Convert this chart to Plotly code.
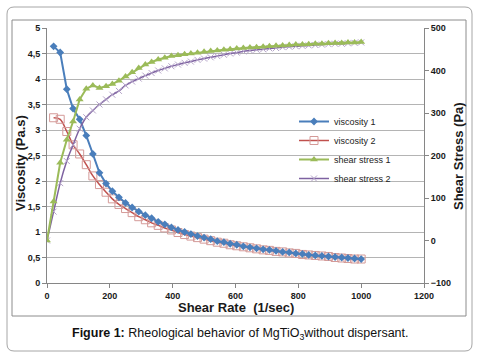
import plotly.graph_objects as go

# ---------------- data ----------------
shear_rate = [0, 21, 42, 63, 83, 104, 125, 146, 167, 188, 208, 229, 250, 271, 292,
              313, 333, 354, 375, 396, 417, 438, 458, 479, 500, 521, 542, 563, 583,
              604, 625, 646, 667, 688, 708, 729, 750, 771, 792, 813, 833, 854, 875,
              896, 917, 938, 958, 979, 1000]

viscosity_rate = shear_rate[1:]
viscosity_1 = [4.64, 4.52, 3.80, 3.42, 3.21, 2.89, 2.53, 2.16, 1.95, 1.80, 1.68, 1.57,
               1.48, 1.40, 1.33, 1.27, 1.20, 1.15, 1.09, 1.04, 1.00, 0.96, 0.92, 0.89,
               0.86, 0.82, 0.80, 0.77, 0.75, 0.72, 0.70, 0.68, 0.66, 0.65, 0.63, 0.61,
               0.60, 0.58, 0.57, 0.55, 0.54, 0.53, 0.52, 0.51, 0.50, 0.49, 0.48, 0.47]
viscosity_2 = [3.24, 3.21, 2.97, 2.71, 2.53, 2.32, 2.10, 1.93, 1.78, 1.65, 1.54, 1.46,
               1.38, 1.30, 1.24, 1.18, 1.13, 1.08, 1.04, 0.99, 0.95, 0.92, 0.89, 0.86,
               0.83, 0.80, 0.78, 0.75, 0.73, 0.71, 0.69, 0.67, 0.65, 0.64, 0.62, 0.61,
               0.59, 0.58, 0.56, 0.55, 0.54, 0.53, 0.52, 0.50, 0.49, 0.48, 0.47, 0.47]
shear_stress_1 = [0, 92, 183, 237, 280, 332, 357, 365, 359, 363, 368, 376, 386, 396,
                  406, 414, 420, 426, 430, 434, 436, 438, 440, 442, 444, 446, 447, 449,
                  450, 452, 453, 454, 455, 456, 457, 458, 459, 460, 461, 461, 462, 463,
                  463, 464, 465, 465, 466, 466, 467]
shear_stress_2 = [0, 68, 135, 187, 225, 263, 290, 306, 320, 332, 343, 352, 365, 374,
                  381, 388, 394, 400, 405, 410, 414, 418, 421, 425, 428, 431, 434, 437,
                  440, 442, 445, 447, 449, 450, 452, 453, 455, 456, 457, 458, 459, 460,
                  461, 462, 463, 463, 464, 465, 466]

visc_ticks = [0, 0.5, 1, 1.5, 2, 2.5, 3, 3.5, 4, 4.5, 5]
visc_tick_text = ["0", "0,5", "1", "1,5", "2", "2,5", "3", "3,5", "4", "4,5", "5"]
stress_ticks = [-100, 0, 100, 200, 300, 400, 500]
rate_ticks = [0, 200, 400, 600, 800, 1000, 1200]

# ---------------- geometry helpers (pixels -> paper) ----------------
W, H = 479, 360
L, R, T, B = 47, 424, 28, 283


def px(x):
    return (x - L) / (R - L)


def py(y):
    return (B - y) / (B - T)


def rounded_rect(x0, y0, x1, y1, r):
    return (f"M {px(x0 + r)} {py(y0)} L {px(x1 - r)} {py(y0)} "
            f"Q {px(x1)} {py(y0)} {px(x1)} {py(y0 + r)} "
            f"L {px(x1)} {py(y1 - r)} Q {px(x1)} {py(y1)} {px(x1 - r)} {py(y1)} "
            f"L {px(x0 + r)} {py(y1)} Q {px(x0)} {py(y1)} {px(x0)} {py(y1 - r)} "
            f"L {px(x0)} {py(y0 + r)} Q {px(x0)} {py(y0)} {px(x0 + r)} {py(y0)} Z")


FONT = "Liberation Sans, Arial, sans-serif"

fig = go.Figure()

fig.add_trace(go.Scatter(
    x=shear_rate, y=shear_stress_2, yaxis="y2", name="shear stress 2",
    mode="lines+markers", line=dict(color="#7E62A1", width=1.5, shape="spline"),
    marker=dict(symbol="x-thin", size=6, color="#B3A2C7",
                line=dict(color="#B3A2C7", width=1)),
    legendrank=4))
fig.add_trace(go.Scatter(
    x=shear_rate, y=shear_stress_1, yaxis="y2", name="shear stress 1",
    mode="lines+markers", line=dict(color="#9BBB59", width=2),
    marker=dict(symbol="triangle-up", size=7, color="#9BBB59"),
    legendrank=3))
fig.add_trace(go.Scatter(
    x=viscosity_rate, y=viscosity_2, name="viscosity 2",
    mode="lines+markers", line=dict(color="#C0504D", width=1.5, shape="spline"),
    marker=dict(symbol="square", size=8, color="rgba(255,255,255,0)",
                line=dict(color="#D49A98", width=1)),
    legendrank=2))
fig.add_trace(go.Scatter(
    x=viscosity_rate, y=viscosity_1, name="viscosity 1",
    mode="lines+markers", line=dict(color="#4A7EBB", width=2),
    marker=dict(symbol="diamond", size=6, color="#4A7EBB"),
    legendrank=1))

shapes = [
    dict(type="path", xref="paper", yref="paper", path=rounded_rect(7, 7, 472, 351, 7),
         line=dict(color="#A6A6A6", width=1), layer="below"),
    dict(type="rect", xref="paper", yref="paper", x0=px(12), x1=px(466), y0=py(20), y1=py(316),
         line=dict(color="#8C8C8C", width=1), layer="below"),
    dict(type="rect", xref="paper", yref="paper", x0=px(292), x1=px(398), y0=py(112), y1=py(190),
         line=dict(width=0), fillcolor="white", layer="between"),
]

annotations = [
    dict(text="<b>Viscosity (Pa.s)</b>", x=px(20), y=py(163), xref="paper", yref="paper",
         xanchor="center", yanchor="middle",
         textangle=-90, showarrow=False, font=dict(family=FONT, size=13, color="#1a1a1a")),
    dict(text="<b>Shear Stress (Pa)</b>", x=px(458), y=py(156), xref="paper", yref="paper",
         xanchor="center", yanchor="middle",
         textangle=-90, showarrow=False, font=dict(family=FONT, size=13, color="#1a1a1a")),
    dict(text="<b>Shear Rate\u00a0 (1/sec)</b>", x=px(236), y=py(307), xref="paper", yref="paper",
         xanchor="center", yanchor="middle",
         showarrow=False, font=dict(family=FONT, size=13, color="#1a1a1a")),
    dict(text="<b>Figure 1:</b> Rheological behavior of MgTiO<sub>3</sub>without dispersant.",
         x=px(240), y=py(334), xref="paper", yref="paper", showarrow=False,
         xanchor="center", yanchor="middle",
         font=dict(family=FONT, size=12.5, color="#111111")),
]

tickfont = dict(family=FONT, size=9, color="#1a1a1a", weight="bold")

fig.update_layout(
    width=W, height=H,
    margin=dict(l=L, r=W - R, t=T, b=H - B, pad=0),
    paper_bgcolor="white", plot_bgcolor="white",
    showlegend=True,
    legend=dict(x=px(294), y=py(107), xanchor="left", yanchor="top",
                bgcolor="rgba(0,0,0,0)", borderwidth=0,
                font=dict(family=FONT, size=9, color="#222222"),
                tracegroupgap=0, itemwidth=30),
    xaxis=dict(range=[0, 1200], tickvals=rate_ticks, showgrid=False,
               showline=True, linecolor="#868686", linewidth=1,
               ticks="outside", ticklen=4, tickcolor="#868686",
               tickfont=tickfont, zeroline=False),
    yaxis=dict(range=[0, 5], tickvals=visc_ticks, ticktext=visc_tick_text,
               showgrid=True, gridcolor="#B4B4B4", gridwidth=1,
               showline=True, linecolor="#868686", linewidth=1,
               ticks="outside", ticklen=4, tickcolor="#868686",
               tickfont=tickfont, zeroline=False),
    yaxis2=dict(range=[-100, 500], tickvals=stress_ticks, overlaying="y", side="right",
                showgrid=False, showline=True, linecolor="#868686", linewidth=1,
                ticks="outside", ticklen=4, tickcolor="#868686",
                tickfont=tickfont, zeroline=False),
    shapes=shapes,
    annotations=annotations,
)

fig.write_html("out.html", config={"displayModeBar": False},
               post_script="document.body.style.margin='0';")
